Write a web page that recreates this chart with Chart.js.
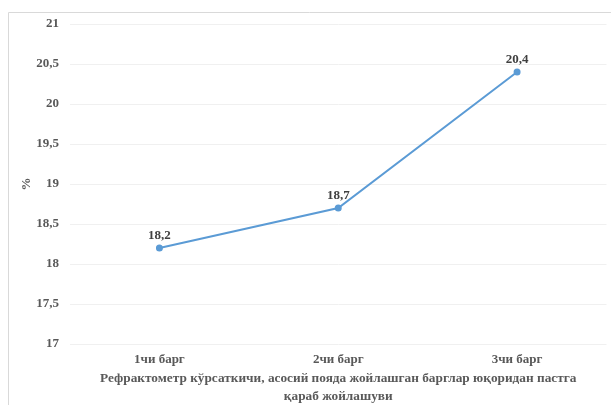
<!DOCTYPE html>
<html>
<head>
<meta charset="utf-8">
<script src="https://cdn.jsdelivr.net/npm/chart.js@4"></script>
<style>
  html, body { margin: 0; padding: 0; background: #fff; }
  #wrap { width: 611px; height: 405px; }
</style>
</head>
<body>
<div id="wrap"><canvas id="chart"></canvas></div>
<script>
const categories = ['1чи барг', '2чи барг', '3чи барг']
const values = [18.2, 18.7, 20.4]
const yTicks = [17, 17.5, 18, 18.5, 19, 19.5, 20, 20.5, 21]
const xTitle = ['Рефрактометр кўрсаткичи, асосий пояда жойлашган барглар юқоридан пастга', 'қараб жойлашуви']
const yTitle = '%'

const serif = '"Liberation Serif", "Times New Roman", serif'
const comma = v => String(v).replace('.', ',')

// thin frame around the chart, top and left side
const framePlugin = {
    id: 'frame',
    beforeDraw(chart) {
        const ctx = chart.ctx
        ctx.save()
        ctx.strokeStyle = '#d9d9d9'
        ctx.lineWidth = 1
        ctx.beginPath()
        ctx.moveTo(8.5, 405)
        ctx.lineTo(8.5, 12.5)
        ctx.lineTo(611, 12.5)
        ctx.stroke()
        ctx.restore()
    }
}

// value labels above each point
const labelPlugin = {
    id: 'pointLabels',
    afterDatasetsDraw(chart) {
        const ctx = chart.ctx
        const meta = chart.getDatasetMeta(0)
        ctx.save()
        ctx.font = 'bold 13px ' + serif
        ctx.fillStyle = '#404040'
        ctx.textAlign = 'center'
        ctx.textBaseline = 'bottom'
        meta.data.forEach((pt, i) => {
            ctx.fillText(comma(values[i]), pt.x, pt.y - 6)
        })
        ctx.restore()
    }
}

new Chart(document.getElementById('chart'), {
    type: 'line',
    data: {
        labels: categories,
        datasets: [{
            data: values,
            borderColor: '#5b9bd5',
            backgroundColor: '#5b9bd5',
            borderWidth: 2,
            pointRadius: 2.5,
            pointHoverRadius: 2.5,
            tension: 0
        }]
    },
    options: {
        responsive: true,
        maintainAspectRatio: false,
        animation: false,
        layout: { padding: { top: 24, right: 3, left: 0, bottom: 0 } },
        plugins: { legend: { display: false }, tooltip: { enabled: false } },
        scales: {
            x: {
                offset: true,
                grid: { display: false },
                border: { display: false },
                ticks: { color: '#595959', font: { family: serif, size: 13, weight: 'bold' }, padding: 0, maxRotation: 0 },
                title: {
                    display: true,
                    text: xTitle,
                    color: '#595959',
                    font: { family: serif, size: 13.3, weight: 'bold', lineHeight: 1.3 },
                    padding: { top: 0, bottom: 0 }
                },
                afterFit(scale) { scale.height = 61 }
            },
            y: {
                min: 17,
                max: 21,
                afterBuildTicks(scale) { scale.ticks = yTicks.map(v => ({ value: v })) },
                grid: { color: '#f0f0f0', lineWidth: 1, drawTicks: false },
                border: { display: false },
                ticks: {
                    color: '#595959',
                    font: { family: serif, size: 13, weight: 'bold' },
                    padding: 11,
                    callback: v => comma(v)
                },
                title: {
                    display: true,
                    text: yTitle,
                    color: '#595959',
                    font: { family: serif, size: 13, weight: 'bold' },
                    padding: { top: 19, bottom: 0 }
                },
                afterFit(scale) { scale.width = 70 }
            }
        }
    },
    plugins: [framePlugin, labelPlugin]
})
</script>
</body>
</html>
